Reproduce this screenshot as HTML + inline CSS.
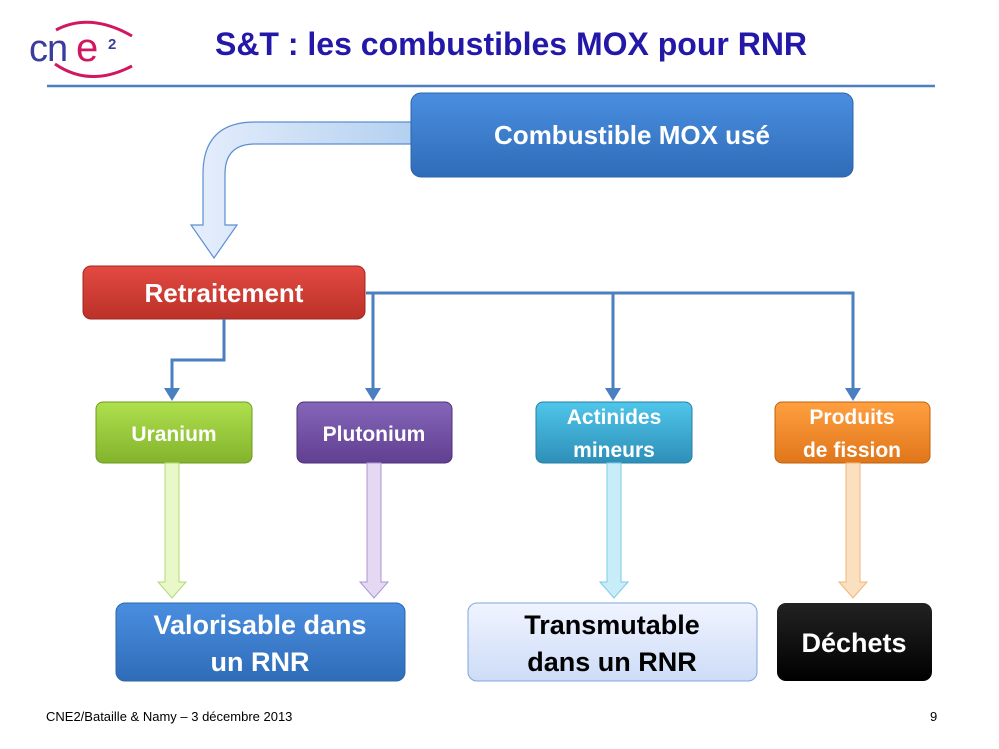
<!DOCTYPE html>
<html><head><meta charset="utf-8"><style>
html,body{margin:0;padding:0;background:#fff;width:999px;height:749px;overflow:hidden}
</style></head><body>
<svg width="999" height="749" xmlns="http://www.w3.org/2000/svg" font-family="'Liberation Sans', sans-serif">
<defs>
<linearGradient id="gb" x1="0" y1="0" x2="0" y2="1"><stop offset="0" stop-color="#4a8ee0"/><stop offset="1" stop-color="#2f6cb8"/></linearGradient>
<linearGradient id="gr" x1="0" y1="0" x2="0" y2="1"><stop offset="0" stop-color="#e34a42"/><stop offset="1" stop-color="#bb3128"/></linearGradient>
<linearGradient id="gg" x1="0" y1="0" x2="0" y2="1"><stop offset="0" stop-color="#aee04e"/><stop offset="1" stop-color="#83b32c"/></linearGradient>
<linearGradient id="gp" x1="0" y1="0" x2="0" y2="1"><stop offset="0" stop-color="#8466b8"/><stop offset="1" stop-color="#613f91"/></linearGradient>
<linearGradient id="gc" x1="0" y1="0" x2="0" y2="1"><stop offset="0" stop-color="#4fc6ea"/><stop offset="1" stop-color="#2e8fb8"/></linearGradient>
<linearGradient id="go" x1="0" y1="0" x2="0" y2="1"><stop offset="0" stop-color="#ffa040"/><stop offset="1" stop-color="#e0761a"/></linearGradient>
<linearGradient id="gl" x1="0" y1="0" x2="0" y2="1"><stop offset="0" stop-color="#f0f4ff"/><stop offset="1" stop-color="#cddcf7"/></linearGradient>
<linearGradient id="gk" x1="0" y1="0" x2="0" y2="1"><stop offset="0" stop-color="#222"/><stop offset="1" stop-color="#000"/></linearGradient>
<linearGradient id="arc" x1="0" y1="0" x2="1" y2="0"><stop offset="0" stop-color="#e6eefc"/><stop offset="1" stop-color="#b3d0f0"/></linearGradient>
</defs>
<!-- logo -->
<text x="29" y="61" font-size="38" fill="#3b3d9c" letter-spacing="-1">cn</text>
<text x="76" y="61" font-size="40" fill="#d0175f">e</text>
<text x="108" y="49" font-size="15" font-weight="bold" fill="#3b3d9c">2</text>
<path d="M56 30 Q90 12 132 36" stroke="#d0175f" stroke-width="3" fill="none"/>
<path d="M55 64 Q90 88 132 66" stroke="#d0175f" stroke-width="3" fill="none"/>
<text x="511" y="55" font-size="32" font-weight="bold" fill="#2318a8" text-anchor="middle">S&amp;T : les combustibles MOX pour RNR</text>
<line x1="47" y1="86" x2="935" y2="86" stroke="#4a7fc0" stroke-width="2.5"/>
<!-- curved arrow -->
<path d="M415 122 L255 122 Q203 122 203 174 L203 225 L191 225 L214 258 L237 225 L225 225 L225 174 Q225 144 255 144 L415 144 Z" fill="url(#arc)" stroke="#5b8fd0" stroke-width="1.2"/>
<!-- MOX box -->
<rect x="411" y="93" width="442" height="84" rx="10" fill="url(#gb)" stroke="#2d64a8"/>
<text x="632" y="144" font-size="26" font-weight="bold" fill="#fff" text-anchor="middle">Combustible MOX usé</text>
<!-- Retraitement -->
<rect x="83" y="266" width="282" height="53" rx="8" fill="url(#gr)" stroke="#a02820"/>
<text x="224" y="302" font-size="26" font-weight="bold" fill="#fff" text-anchor="middle">Retraitement</text>
<!-- connectors -->
<g stroke="#4a7fc0" stroke-width="3" fill="none">
<path d="M366 293 L853 293 L853 390"/>
<path d="M373 293 L373 390"/>
<path d="M613 293 L613 390"/>
<path d="M224 319 L224 360 L172 360 L172 390"/>
</g>
<g fill="#4a7fc0">
<path d="M164 388 L180 388 L172 401 Z"/><path d="M365 388 L381 388 L373 401 Z"/>
<path d="M605 388 L621 388 L613 401 Z"/><path d="M845 388 L861 388 L853 401 Z"/>
</g>
<!-- mid boxes -->
<rect x="96" y="402" width="156" height="61" rx="7" fill="url(#gg)" stroke="#6e9a22"/>
<text x="174" y="441" font-size="21" font-weight="bold" fill="#fff" text-anchor="middle">Uranium</text>
<rect x="297" y="402" width="155" height="61" rx="7" fill="url(#gp)" stroke="#4e3178"/>
<text x="374" y="441" font-size="21" font-weight="bold" fill="#fff" text-anchor="middle">Plutonium</text>
<rect x="536" y="402" width="156" height="61" rx="7" fill="url(#gc)" stroke="#2a7ea3"/>
<text x="614" y="424" font-size="21" font-weight="bold" fill="#fff" text-anchor="middle">Actinides</text>
<text x="614" y="457" font-size="21" font-weight="bold" fill="#fff" text-anchor="middle">mineurs</text>
<rect x="775" y="402" width="155" height="61" rx="7" fill="url(#go)" stroke="#c06010"/>
<text x="852" y="424" font-size="21" font-weight="bold" fill="#fff" text-anchor="middle">Produits</text>
<text x="852" y="457" font-size="21" font-weight="bold" fill="#fff" text-anchor="middle">de fission</text>
<!-- thin arrows -->
<path d="M165 463 L179 463 L179 582 L186 582 L172 598 L158 582 L165 582 Z" fill="#e8f8c8" stroke="#b6d878"/>
<path d="M367 463 L381 463 L381 582 L388 582 L374 598 L360 582 L367 582 Z" fill="#e4d8f2" stroke="#ad94d4"/>
<path d="M607 463 L621 463 L621 582 L628 582 L614 598 L600 582 L607 582 Z" fill="#c8ecf8" stroke="#7ccbe8"/>
<path d="M846 463 L860 463 L860 582 L867 582 L853 598 L839 582 L846 582 Z" fill="#fbe0c0" stroke="#f2b47a"/>
<!-- bottom boxes -->
<rect x="116" y="603" width="289" height="78" rx="9" fill="url(#gb)" stroke="#2d64a8"/>
<text x="260" y="634" font-size="27" font-weight="bold" fill="#fff" text-anchor="middle">Valorisable dans</text>
<text x="260" y="671" font-size="27" font-weight="bold" fill="#fff" text-anchor="middle">un RNR</text>
<rect x="468" y="603" width="289" height="78" rx="9" fill="url(#gl)" stroke="#7fa6dc"/>
<text x="612" y="634" font-size="27" font-weight="bold" fill="#000" text-anchor="middle">Transmutable</text>
<text x="612" y="671" font-size="27" font-weight="bold" fill="#000" text-anchor="middle">dans un RNR</text>
<rect x="777" y="603" width="155" height="78" rx="9" fill="url(#gk)"/>
<text x="854" y="652" font-size="27" font-weight="bold" fill="#fff" text-anchor="middle">Déchets</text>
<!-- footer -->
<text x="46" y="721" font-size="13" fill="#000">CNE2/Bataille &amp; Namy – 3 décembre 2013</text>
<text x="930" y="721" font-size="13" fill="#000">9</text>
</svg>
</body></html>
